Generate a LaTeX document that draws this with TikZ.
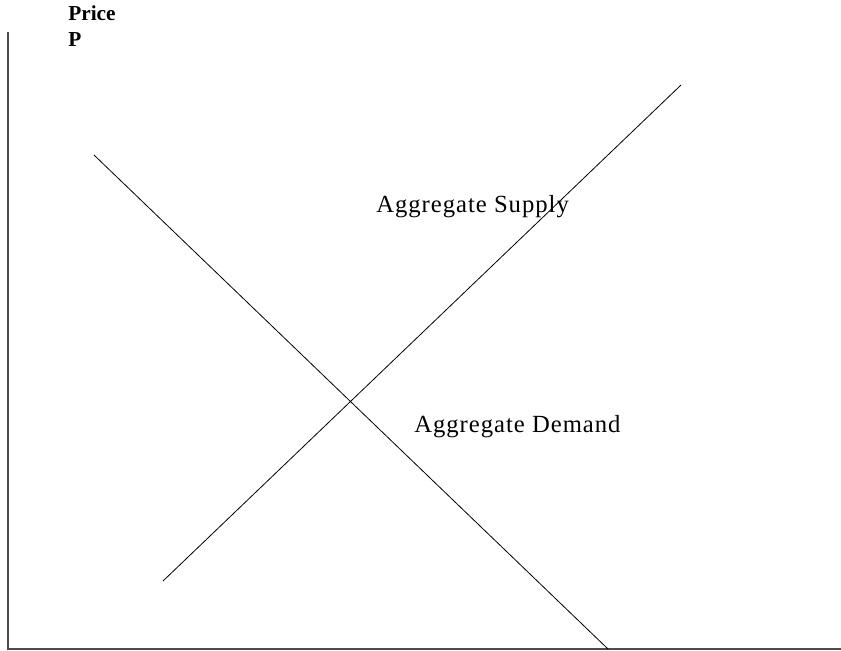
\documentclass[tikz,border=0pt]{standalone}
\usepackage{fontspec}
\setmainfont{Liberation Serif}
\newfontfamily\curvefont[LetterSpace=4]{Liberation Serif}
\usepackage{tikz}

\tikzset{
  curvelab/.style={font=\curvefont\fontsize{18.5}{20}\selectfont, anchor=base west, inner sep=0pt},
  axislab/.style={font=\bfseries\fontsize{16}{18}\selectfont, anchor=base west, inner sep=0pt}
}

\begin{document}
\begin{tikzpicture}[x=0.75pt, y=-0.75pt]
  \useasboundingbox (0,0) rectangle (841,650);
  % axes
  \coordinate (ptop) at (8,32);
  \coordinate (origin) at (8,649);
  \coordinate (qend) at (841,649);
  \draw[black!70, line width=1.2pt] (ptop) -- (origin) -- (qend);
  \node[axislab] (price) at (68,20) {Price};
  \node[axislab] (plab) at (68,46) {P};
  % curves
  \coordinate (as1) at (163,581);
  \coordinate (as2) at (681,85);
  \coordinate (ad1) at (94,155);
  \coordinate (ad2) at (608,649);
  \draw[line width=0.6pt] (as1) -- (as2);
  \draw[line width=0.6pt] (ad1) -- (ad2);
  \node[curvelab] (aslab) at (376,212) {Aggregate Supply};
  \node[curvelab] (adlab) at (414,432) {Aggregate Demand};
\end{tikzpicture}
\end{document}
